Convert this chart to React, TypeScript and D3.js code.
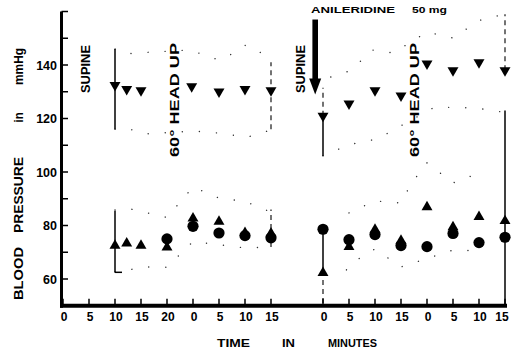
import * as d3 from "d3";

// time slots along the x axis (slot 9 is the gap before the drug)
const slotLabels = ["0", "5", "10", "15", "20", "0", "5", "10", "15", "", "0", "5", "10", "15", "0", "5", "10", "15"];
const yLabelTicks = [60, 80, 100, 120, 140];
const yMinorTicks = [70, 90, 110, 130, 150, 160];

// systolic (▼)
const sysSlot = [2, 2.45, 3, 4.95, 6, 7, 8, 10, 11, 12, 13, 14, 15, 16, 17];
const sysValue = [132.5, 131, 130.5, 132, 130, 131, 130.5, 121, 125.5, 130.5, 128.5, 140.5, 138, 141, 138];

// diastolic (▲)
const diaSlot = [2, 2.45, 3, 4, 5, 6, 7, 8, 10, 11, 12, 13, 14, 15, 16, 17];
const diaValue = [72.5, 73.3, 72.5, 71.8, 82.7, 81.5, 77.3, 77.1, 62.3, 72, 78.5, 74.4, 86.9, 79.4, 83.2, 81.7];

// mean (●)
const meanSlot = [4, 5, 6, 7, 8, 10, 11, 12, 13, 14, 15, 16, 17];
const meanValue = [75, 79.7, 77.2, 76.2, 75.4, 78.6, 74.7, 76.6, 72.5, 72.1, 77, 73.6, 75.6];

// +/- SD envelopes, drawn dotted
const envelopes: [number, number][][] = [
  [[2, 146], [2.42, 144.1], [2.85, 144.5], [4.8, 145.6], [5.5, 143.7], [5.96, 141.9], [6.3, 143], [7.04, 147.5], [8, 142.6]],
  [[2, 116], [2.46, 116.4], [3.1, 114.2], [5, 115.3], [5.96, 114.6], [7.08, 113], [8, 115.7]],
  [[10.3, 135.5], [11, 137.7], [11.5, 141.9], [11.9, 145.6], [12.7, 144.5], [14, 152.3], [15, 150.1], [15.6, 154], [16.1, 157], [17, 159]],
  [[10, 106], [11, 110.2], [12.1, 112.4], [14.3, 124.3], [15.9, 123.9], [16.9, 122.4]],
  [[2, 85.8], [2.5, 86.4], [4, 83], [5, 94.4], [5.96, 90.4], [6.6, 89.5], [7, 89], [7.8, 85.8], [8, 85]],
  [[2, 62.6], [2.6, 63.5], [3, 64.5], [4, 64.4], [5, 74], [7.1, 71.5], [8, 72.1]],
  [[11, 84.7], [12, 89.2], [13, 88.4], [13.3, 94], [13.5, 97], [14, 103.4], [15, 95.9], [16, 99.6]],
  [[10.9, 63.4], [11.5, 68.6], [12, 71.2], [13, 64.5], [15, 70.8], [16, 70.5]],
];

// vertical range bars [slot, low, high]
const solidBars: [number, number, number][] = [
  [2, 116, 146], [2, 62.5, 85.5], [10, 106, 121], [10, 62.3, 78.6], [17, 50, 123],
];
const dashedBars: [number, number, number][] = [
  [8, 116, 141], [8, 72, 86], [10, 121, 131.5], [10, 51, 62.3], [17, 138, 159],
];

const arrowSlot = 9.7;
const arrowTop = 157;
const arrowTip = 129;

const W = 511;
const H = 350;
const x = d3.scaleLinear().domain([0, 17]).range([63, 505]);
const y = d3.scaleLinear().domain([50, 160]).range([305.75, 11.5]);

const font = "'Liberation Sans', Arial, sans-serif";
const triPath = d3.symbol().type(d3.symbolTriangle).size(52)() as string;
const dotLine = d3.line<[number, number]>().x(d => x(d[0])).y(d => y(d[1]));

function VText({ x0, y0, len, size, children }: { x0: number; y0: number; len: number; size: number; children: string }) {
  return (
    <text
      transform={`translate(${x0},${y0}) rotate(-90)`}
      textAnchor="middle"
      fontSize={size}
      fontWeight="bold"
      textLength={len}
      lengthAdjust="spacingAndGlyphs"
    >
      {children}
    </text>
  );
}

export default function App() {
  const ax = x(arrowSlot);
  return (
    <svg width={W} height={H} style={{ position: "absolute", left: 0, top: 0, background: "#fff" }} fontFamily={font}>
      {/* dotted SD envelopes */}
      <g fill="none" stroke="#333" strokeWidth={1.4} strokeLinecap="round" strokeDasharray="0.1 17">
        {envelopes.map((e, i) => <path key={i} d={dotLine(e) as string} />)}
      </g>

      {/* range bars */}
      <g stroke="#000">
        {solidBars.map((b, i) => (
          <line key={i} x1={x(b[0])} x2={x(b[0])} y1={y(b[1])} y2={y(b[2])} strokeWidth={1.5} />
        ))}
        {dashedBars.map((b, i) => (
          <line key={i} x1={x(b[0])} x2={x(b[0])} y1={y(b[1])} y2={y(b[2])} strokeWidth={1.1} strokeDasharray="5 4" />
        ))}
        <line x1={x(2)} x2={x(2) + 7} y1={y(62.5)} y2={y(62.5)} strokeWidth={1.5} />
      </g>

      {/* axes */}
      <g stroke="#000">
        <line x1={61.5} x2={61.5} y1={y(160)} y2={y(50) + 2} strokeWidth={3} />
        <line x1={60} x2={507} y1={y(50)} y2={y(50)} strokeWidth={4} />
        {yLabelTicks.concat(yMinorTicks).map(v => (
          <line key={v} x1={61.5} x2={68} y1={y(v)} y2={y(v)} strokeWidth={1.5} />
        ))}
        {slotLabels.map((l, i) => l === "" ? null : (
          <line key={i} x1={x(i)} x2={x(i)} y1={y(50)} y2={y(50) - 7} strokeWidth={1.5} />
        ))}
      </g>
      <g fontSize={12.5} fontWeight="bold" textAnchor="end">
        {yLabelTicks.map(v => (
          <text key={v} x={57} y={y(v) + 4.5}>{v}</text>
        ))}
      </g>
      <g fontSize={12} fontWeight="bold" textAnchor="middle">
        {slotLabels.map((l, i) => (
          <text key={i} x={Math.min(x(i) + 1, 502)} y={321}>{l}</text>
        ))}
      </g>
      <g fontSize={11} fontWeight="bold">
        <text x={217} y={347} textLength={33} lengthAdjust="spacingAndGlyphs">TIME</text>
        <text x={282} y={347} textLength={13} lengthAdjust="spacingAndGlyphs">IN</text>
        <text x={328} y={347} textLength={49} lengthAdjust="spacingAndGlyphs">MINUTES</text>
      </g>

      {/* y axis title */}
      <VText x0={23} y0={273.5} len={53} size={12.5}>BLOOD</VText>
      <VText x0={23} y0={195} len={76} size={12.5}>PRESSURE</VText>
      <VText x0={23} y0={117.5} len={10} size={12.5}>in</VText>
      <VText x0={23} y0={66.5} len={37} size={12.5}>mmHg</VText>

      {/* annotations */}
      <VText x0={90} y0={69} len={48} size={13}>SUPINE</VText>
      <VText x0={305} y0={69} len={48} size={13}>SUPINE</VText>
      <VText x0={179} y0={100} len={114} size={13}>60° HEAD UP</VText>
      <VText x0={419} y0={100} len={114} size={13}>60° HEAD UP</VText>
      <g fontSize={9} fontWeight="bold">
        <text x={311} y={13} textLength={84} lengthAdjust="spacingAndGlyphs">ANILERIDINE</text>
        <text x={412} y={13} textLength={35} lengthAdjust="spacingAndGlyphs">50 mg</text>
      </g>
      <g fill="#000">
        <rect x={ax - 2.8} y={y(arrowTop)} width={5.6} height={y(arrowTip) - y(arrowTop) - 14} />
        <path d={`M${ax - 6},${y(arrowTip) - 16} L${ax + 6},${y(arrowTip) - 16} L${ax},${y(arrowTip)} Z`} />
      </g>

      {/* markers */}
      <g fill="#000">
        {meanSlot.map((s, i) => (
          <circle key={i} cx={x(s)} cy={y(meanValue[i])} r={5.6} />
        ))}
        {diaSlot.map((s, i) => (
          <path key={i} d={triPath} transform={`translate(${x(s)},${y(diaValue[i])})`} />
        ))}
        {sysSlot.map((s, i) => (
          <path key={i} d={triPath} transform={`translate(${x(s)},${y(sysValue[i])}) rotate(180)`} />
        ))}
      </g>
    </svg>
  );
}
